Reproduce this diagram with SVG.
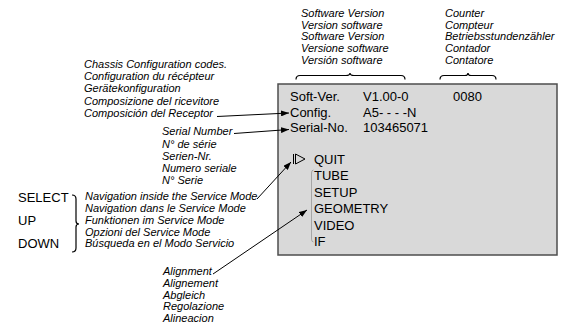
<svg xmlns="http://www.w3.org/2000/svg" width="563" height="334" viewBox="0 0 563 334">
<style>
.lbl{font-family:"Liberation Sans",Arial,sans-serif;font-size:11px;font-style:italic;fill:#000}
.scr{font-family:"Liberation Sans",Arial,sans-serif;font-size:13px;fill:#000}
.ln{stroke:#000;stroke-width:1;fill:none}
.br{stroke:#000;stroke-width:1.2;fill:none}
</style>
<defs>
<marker id="ah" markerWidth="8" markerHeight="6" refX="8" refY="3" orient="auto" markerUnits="userSpaceOnUse">
<path d="M0,0 L8,3 L0,6 Z" fill="#000"/>
</marker>
</defs>
<rect width="563" height="334" fill="#fff"/>

<g id="screen">
<rect x="278" y="84" width="279" height="171" fill="#d9d9d9" stroke="#4d4d4d" stroke-width="1.5"/>
<text class="scr" x="290" y="101">Soft-Ver.</text>
<text class="scr" x="363" y="101">V1.00-0</text>
<text class="scr" x="453" y="101">0080</text>
<text class="scr" x="290" y="116.5">Config.</text>
<text class="scr" x="363" y="116.5">A5- - - -N</text>
<text class="scr" x="290" y="132">Serial-No.</text>
<text class="scr" x="363" y="132">103465071</text>
<line x1="293.5" y1="154" x2="293.5" y2="164" stroke="#000" stroke-width="1"/>
<path d="M295.5,154 L305,159 L295.5,164 Z" fill="none" stroke="#000" stroke-width="1"/>
<text class="scr" x="314" y="163.5">QUIT</text>
<path d="M313.5,170 Q311.5,170 311.5,173 L311.5,239 Q311.5,242 313.5,242" fill="none" stroke="#999" stroke-width="0.8"/>
<text class="scr" x="314" y="180">TUBE</text>
<text class="scr" x="314" y="196.5">SETUP</text>
<text class="scr" x="314" y="213">GEOMETRY</text>
<text class="scr" x="314" y="229.5">VIDEO</text>
<text class="scr" x="314" y="246">IF</text>
</g>

<g id="software-version">
<text class="lbl" x="301" y="16.5">Software Version</text>
<text class="lbl" x="301" y="28.5">Version software</text>
<text class="lbl" x="301" y="40">Software Version</text>
<text class="lbl" x="301" y="52">Versione software</text>
<text class="lbl" x="301" y="63.5">Versión software</text>
</g>

<g id="counter">
<text class="lbl" x="445" y="16.5">Counter</text>
<text class="lbl" x="445" y="28.5">Compteur</text>
<text class="lbl" x="445" y="40">Betriebsstundenzähler</text>
<text class="lbl" x="445" y="52">Contador</text>
<text class="lbl" x="445" y="63.5">Contatore</text>
</g>

<g id="chassis-config">
<text class="lbl" x="84" y="68">Chassis Configuration codes.</text>
<text class="lbl" x="84" y="80">Configuration du récépteur</text>
<text class="lbl" x="84" y="92">Gerätekonfiguration</text>
<text class="lbl" x="84" y="104.5">Composizione del ricevitore</text>
<text class="lbl" x="84" y="116.5">Composición del Receptor</text>
</g>

<g id="serial-number">
<text class="lbl" x="162" y="135">Serial Number</text>
<text class="lbl" x="162" y="148">N° de série</text>
<text class="lbl" x="162" y="160">Serien-Nr.</text>
<text class="lbl" x="162" y="172">Numero seriale</text>
<text class="lbl" x="162" y="184">N° Serie</text>
</g>

<g id="keys">
<text class="scr" x="18" y="202">SELECT</text>
<text class="scr" x="18" y="225">UP</text>
<text class="scr" x="18" y="247.5">DOWN</text>
</g>

<g id="navigation">
<text class="lbl" x="85" y="200">Navigation inside the Service Mode</text>
<text class="lbl" x="85" y="212">Navigation dans le Service Mode</text>
<text class="lbl" x="85" y="223.5">Funktionen im Service Mode</text>
<text class="lbl" x="85" y="235.5">Opzioni del Service Mode</text>
<text class="lbl" x="85" y="247">Búsqueda en el Modo Servicio</text>
</g>

<g id="alignment">
<text class="lbl" x="163" y="275">Alignment</text>
<text class="lbl" x="163" y="287">Alignement</text>
<text class="lbl" x="163" y="298.5">Abgleich</text>
<text class="lbl" x="163" y="310">Regolazione</text>
<text class="lbl" x="163" y="322">Alineacion</text>
</g>

<g id="connectors">
<path class="br" d="M296,79.5 Q296,75.5 300,75.5 L346,75.5 Q350,75.5 350,73 Q350,75.5 354,75.5 L401,75.5 Q405,75.5 405,79.5"/>
<path class="br" d="M440,79.5 Q440,75.5 444,75.5 L465,75.5 Q468,75.5 468,73 Q468,75.5 471,75.5 L492,75.5 Q496,75.5 496,79.5"/>
<path class="br" d="M72,195 Q76,195 76,199 L76,221 Q76,224 79,224 Q76,224 76,227 L76,248 Q76,252 72,252" stroke-width="1"/>
<line class="ln" x1="217" y1="116.5" x2="289" y2="113" marker-end="url(#ah)"/>
<line class="ln" x1="234" y1="133.5" x2="289" y2="129.5" marker-end="url(#ah)"/>
<line class="ln" x1="257" y1="199" x2="291" y2="162" marker-end="url(#ah)"/>
<line class="ln" x1="213" y1="274" x2="307" y2="210" marker-end="url(#ah)"/>
</g>
</svg>
